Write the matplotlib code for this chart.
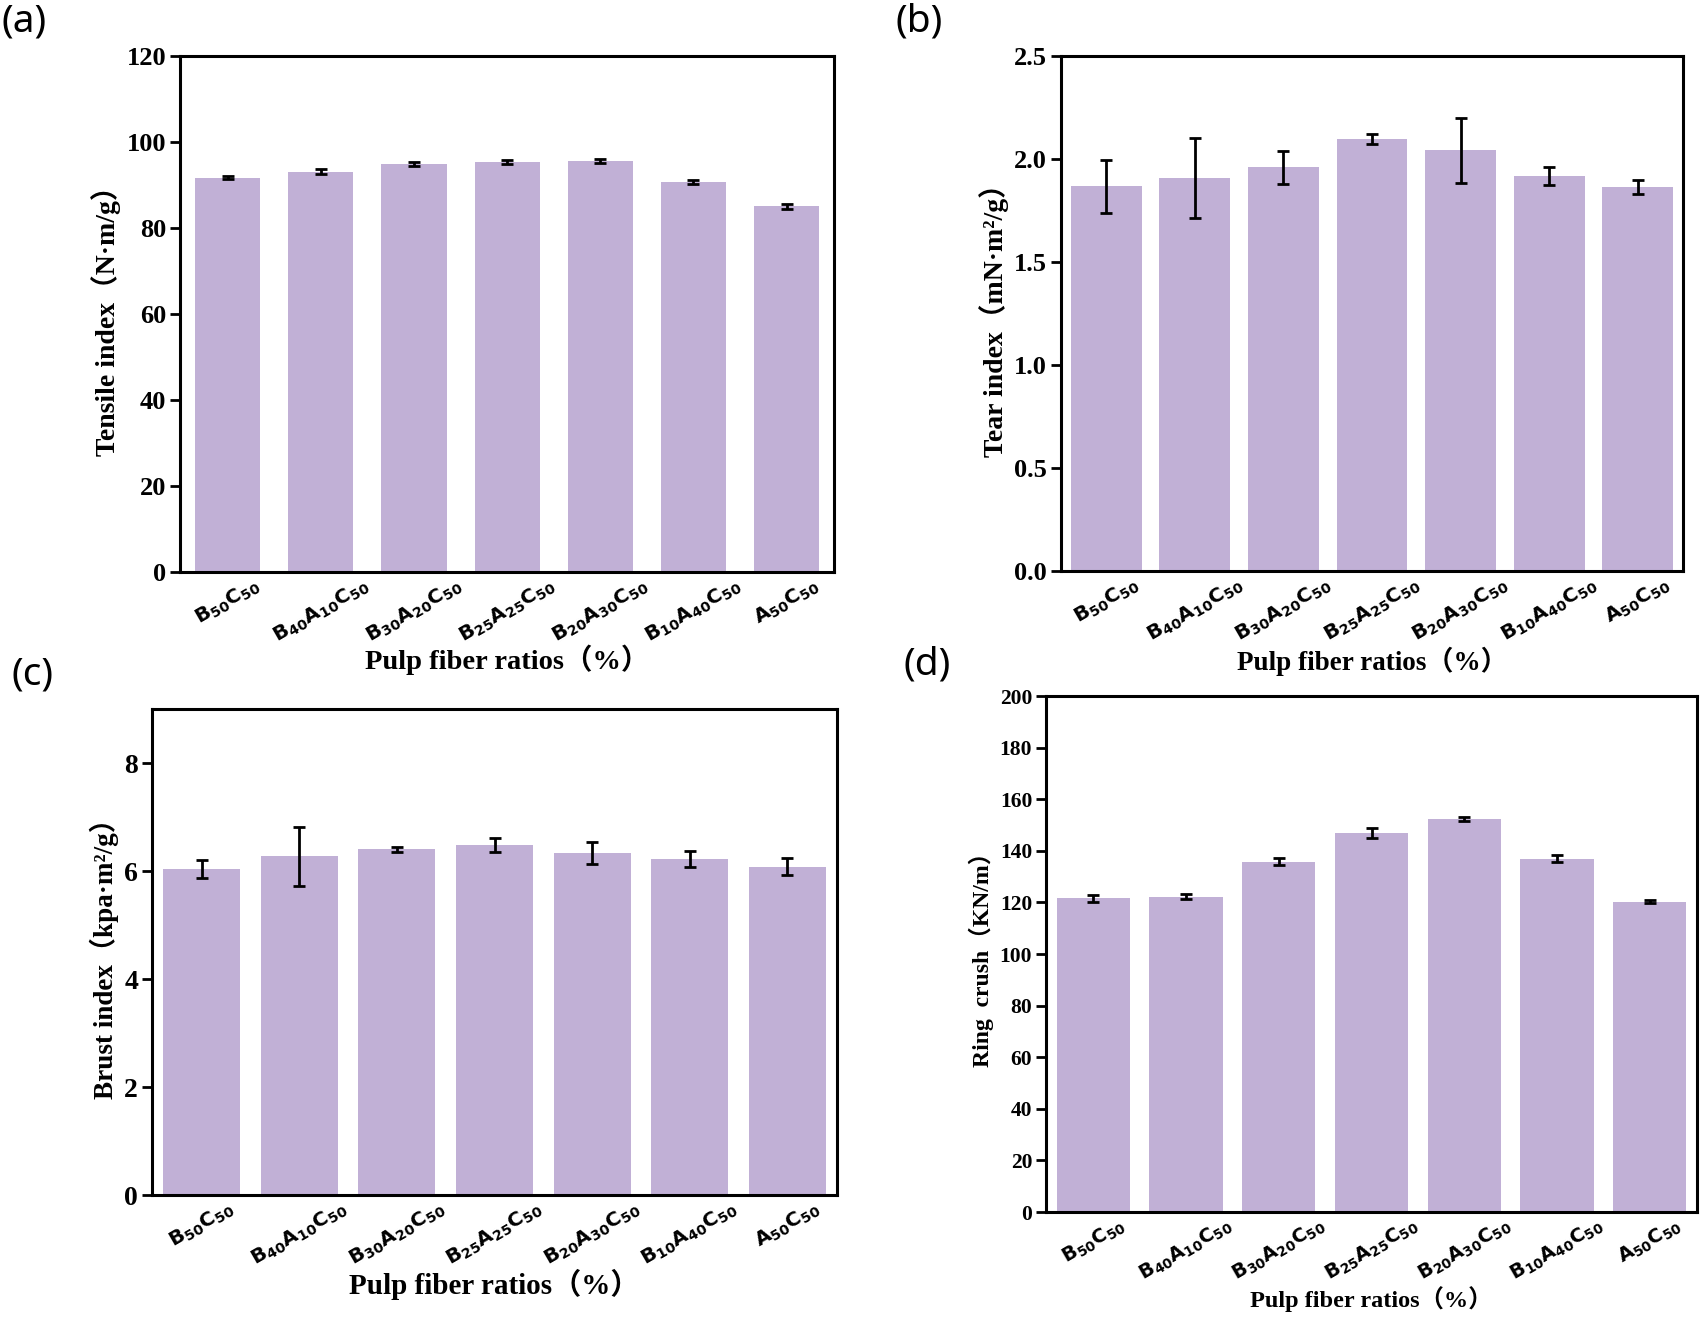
import matplotlib
matplotlib.use("Agg")
import matplotlib.pyplot as plt
import numpy as np

plt.rcParams['mathtext.fontset'] = 'custom'
plt.rcParams['mathtext.rm'] = 'DejaVu Sans:bold'
plt.rcParams['mathtext.bf'] = 'DejaVu Sans:bold'
plt.rcParams['mathtext.it'] = 'DejaVu Sans:bold'

# ---- data ----
categories = [r'$\mathbf{B_{50}C_{50}}$', r'$\mathbf{B_{40}A_{10}C_{50}}$',
              r'$\mathbf{B_{30}A_{20}C_{50}}$', r'$\mathbf{B_{25}A_{25}C_{50}}$',
              r'$\mathbf{B_{20}A_{30}C_{50}}$', r'$\mathbf{B_{10}A_{40}C_{50}}$',
              r'$\mathbf{A_{50}C_{50}}$']

tensile = [91.7, 93.1, 94.9, 95.4, 95.6, 90.7, 85.1]
tensile_err = [0.4, 0.6, 0.4, 0.4, 0.5, 0.4, 0.6]

tear = [1.867, 1.908, 1.959, 2.098, 2.043, 1.918, 1.865]
tear_err = [0.13, 0.195, 0.08, 0.025, 0.158, 0.044, 0.034]

burst = [6.04, 6.27, 6.40, 6.48, 6.33, 6.22, 6.08]
burst_err = [0.16, 0.54, 0.05, 0.13, 0.20, 0.15, 0.16]

ring = [121.6, 122.3, 135.8, 146.9, 152.3, 137.0, 120.3]
ring_err = [1.4, 0.9, 1.3, 2.0, 0.65, 1.5, 0.5]

bar_color = '#C1B0D6'
serif = ['Liberation Serif', 'Noto Sans CJK SC']

fig = plt.figure(figsize=(17.02, 13.18), dpi=100)

panels = [
    dict(rect=[0.1058, 0.5660, 0.3843, 0.3915], v=tensile, e=tensile_err,
         ylim=(0, 120), yt=np.arange(0, 121, 20), fmt='{:.0f}',
         yl='Tensile index（N·m/g）', w=0.70, tfs=19, ylfs=20, xlfs=20.5,
         xfs=14.5, xly=-0.140, pl='(a)', pp=(0.001, 0.998)),
    dict(rect=[0.6234, 0.5668, 0.3654, 0.3907], v=tear, e=tear_err,
         ylim=(0, 2.5), yt=np.arange(0, 2.51, 0.5), fmt='{:.1f}',
         yl='Tear index（mN·m²/g）', w=0.80, tfs=19, ylfs=20, xlfs=19.5,
         xfs=14.5, xly=-0.147, pl='(b)', pp=(0.526, 0.998)),
    dict(rect=[0.0893, 0.0933, 0.4025, 0.3687], v=burst, e=burst_err,
         ylim=(0, 9), yt=np.arange(0, 9, 2), fmt='{:.0f}',
         yl='Brust index（kpa·m²/g）', w=0.79, tfs=20, ylfs=19.5, xlfs=21,
         xfs=14.5, xly=-0.152, pl='(c)', pp=(0.007, 0.503)),
    dict(rect=[0.6146, 0.0804, 0.3825, 0.3915], v=ring, e=ring_err,
         ylim=(0, 200), yt=np.arange(0, 201, 20), fmt='{:.0f}',
         yl='Ring  crush（KN/m）', w=0.79, tfs=15.5, ylfs=17, xlfs=17.5,
         xfs=14.0, xly=-0.143, pl='(d)', pp=(0.531, 0.510)),
]

for p in panels:
    ax = fig.add_axes(p['rect'])
    x = np.arange(len(categories))
    ax.bar(x, p['v'], width=p['w'], color=bar_color, edgecolor='none', zorder=2)
    ax.errorbar(x, p['v'], yerr=p['e'], fmt='none', ecolor='black',
                elinewidth=2.0, capsize=4.5, capthick=2.0, zorder=3)
    ax.set_xlim(-0.51, 6.51)
    ax.set_ylim(*p['ylim'])
    ax.set_yticks(p['yt'])
    ax.set_yticklabels([p['fmt'].format(t) for t in p['yt']],
                       fontfamily=serif, fontweight='bold', fontsize=p['tfs'])
    ax.set_xticks(x)
    ax.set_xticklabels(categories, rotation=30, ha='center', va='top',
                       fontsize=p['xfs'])
    ax.tick_params(axis='x', length=0, pad=2)
    ax.tick_params(axis='y', direction='out', length=7, width=2.0, pad=3)
    for s in ax.spines.values():
        s.set_linewidth(2.2)
        s.set_color('black')
    ax.set_ylabel(p['yl'], fontfamily=serif, fontweight='bold', fontsize=p['ylfs'])
    ax.set_xlabel('Pulp fiber ratios（%）', fontfamily=serif, fontweight='bold',
                  fontsize=p['xlfs'])
    ax.xaxis.set_label_coords(0.5, p['xly'])
    fig.text(p['pp'][0], p['pp'][1], p['pl'], fontfamily='Noto Sans',
             fontsize=28, ha='left', va='top')

fig.savefig('out.png', dpi=100)
